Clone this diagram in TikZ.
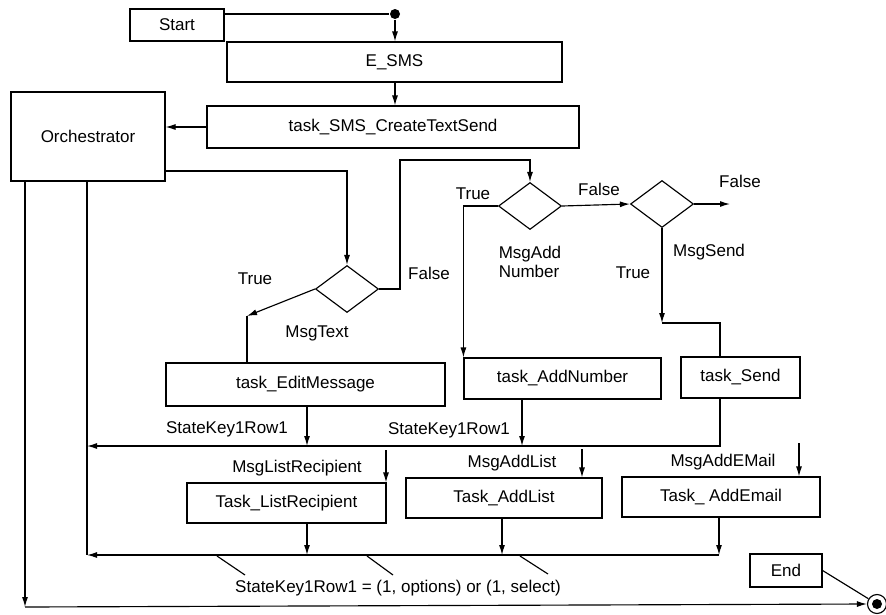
\documentclass[tikz,border=0pt]{standalone}
\usepackage{fontspec}
\setmainfont{Liberation Sans}
\usetikzlibrary{arrows.meta,shapes.geometric,calc}
\begin{document}
\begin{tikzpicture}[x=1pt,y=-1pt,
  font=\fontsize{17}{19.5}\selectfont,
  every path/.style={line width=1.15pt},
  arr/.style={-{Latex[length=10pt,width=6pt]}},
  box/.style={draw,rectangle,inner sep=0pt},
  dia/.style={draw,diamond,inner sep=0pt,minimum width=63pt,minimum height=47pt},
  lbl/.style={inner sep=0pt}]
\useasboundingbox (0,0) rectangle (886,614);
% boxes
\node[box,minimum width=94pt,minimum height=32pt] (start) at (177,25) {Start};
\node[box,minimum width=335pt,minimum height=40pt] (esms) at (394.5,62) {E\_SMS};
\node[box,minimum width=372pt,minimum height=42pt] (tsms) at (393,127) {task\_SMS\_CreateTextSend};
\node[box,minimum width=154pt,minimum height=89pt] (orch) at (88,136.5) {Orchestrator};
\node[box,minimum width=279pt,minimum height=43pt] (edit) at (305.5,384.5) {task\_EditMessage};
\node[box,minimum width=197pt,minimum height=41pt] (addnum) at (562.5,378.5) {task\_AddNumber};
\node[box,minimum width=119pt,minimum height=41pt] (send) at (740.5,377.5) {task\_Send};
\node[box,minimum width=199pt,minimum height=40pt] (listr) at (286.5,503) {Task\_ListRecipient};
\node[box,minimum width=196pt,minimum height=40pt] (addlist) at (504,498) {Task\_AddList};
\node[box,minimum width=198pt,minimum height=40pt] (addemail) at (721,497) {Task\_ AddEmail};
\node[box,minimum width=72pt,minimum height=33pt] (endb) at (786,570.5) {End};
% diamonds
\node[dia] (d1) at (347,289) {};
\node[dia] (d2) at (530,206) {};
\node[dia] (d3) at (662,204) {};
% start / end markers
\node[circle,fill,inner sep=0pt,minimum size=10pt] (dot) at (395,14) {};
\node[circle,draw,inner sep=0pt,minimum size=19pt] (endc) at (877,604) {};
\fill (endc.center) circle (5pt);
% labels
\node[lbl] (t1) at (255,279) {True};
\node[lbl] (f1) at (429,273) {False};
\node[lbl] (m1) at (317,333) {MsgText};
\node[lbl] (t2) at (473,194) {True};
\node[lbl] (f2) at (599,189) {False};
\node[lbl,align=left] (m2) at (530,262) {MsgAdd\\Number};
\node[lbl] (f3) at (740,181) {False};
\node[lbl] (m3) at (709,252) {MsgSend};
\node[lbl] (t3) at (633,273) {True};
\node[lbl] (s1) at (227,429) {StateKey1Row1};
\node[lbl] (s2) at (449,430) {StateKey1Row1};
\node[lbl] (ml1) at (297,468) {MsgListRecipient};
\node[lbl] (ml2) at (512,463) {MsgAddList};
\node[lbl] (ml3) at (723,462) {MsgAddEMail};
\node[lbl] (bot) at (398,588) {StateKey1Row1 = (1, options) or (1, select)};
% coordinates
\coordinate (b1) at (347,171);
\coordinate (b2) at (400,160);
\coordinate (c1) at (247,316);
\coordinate (e1) at (307,446);
\coordinate (e2) at (522,446);
\coordinate (fx) at (730,204);
\coordinate (c3) at (662,323);
\coordinate (c4) at (720,323);
\coordinate (br1) at (720,446);
\coordinate (bl1) at (87,446);
\coordinate (bl2) at (87,555);
\coordinate (bl3) at (25,607);
\coordinate (i1) at (386,450);
\coordinate (i2) at (582,449);
\coordinate (i3) at (799,443);
\coordinate (o1) at (307,555);
\coordinate (o2) at (502,555);
\coordinate (o3) at (719,555);
\coordinate (g1) at (217,556);
\coordinate (h1) at (245,575);
\coordinate (g2) at (367,556);
\coordinate (h2) at (393,575);
\coordinate (g3) at (520,556);
\coordinate (h3) at (548,574);
% connectors
\draw (start.east |- dot) -- (dot);
\draw[arr] (dot) -- (dot |- esms.north);
\draw[arr] (esms.south -| dot) -- (tsms.north -| dot);
\draw[arr] (tsms.west) -- (orch.east |- tsms.west);
\draw[arr] (orch.east |- b1) -- (b1) -- (d1.north);
\draw[arr] (d1.east) -| (b2) -| (d2.north);
\draw[arr] (d1.west) -- (c1);
\draw (c1) -- (c1 |- edit.north);
\draw[arr] (edit.south -| e1) -- (e1);
\draw[arr] (d2.west) -| (addnum.north west);
\draw[arr] (d2.east) -- (d3.west);
\draw[arr] (d3.east) -- (fx);
\draw[arr] (d3.south) -- (c3);
\draw (c3) -- (c4) -- (c4 |- send.north);
\draw[arr] (addnum.south -| e2) -- (e2);
\draw[arr] (send.south -| br1) -- (br1) -- (bl1);
\draw (orch.south -| bl1) -- (bl2);
\draw[arr] (orch.south -| bl3) -- (bl3);
\draw[arr] (bl3) -- (endc.west);
\draw[arr] (i1) -- (i1 |- listr.north);
\draw[arr] (i2) -- (i2 |- addlist.north);
\draw[arr] (i3) -- (i3 |- addemail.north);
\draw[arr] (listr.south -| o1) -- (o1);
\draw[arr] (addlist.south -| o2) -- (o2);
\draw[arr] (addemail.south -| o3) -- (o3);
\draw[arr] (o3) -- (bl2);
\draw (g1) -- (h1);
\draw (g2) -- (h2);
\draw (g3) -- (h3);
\draw (endb.east) -- (endc);
\end{tikzpicture}
\end{document}
